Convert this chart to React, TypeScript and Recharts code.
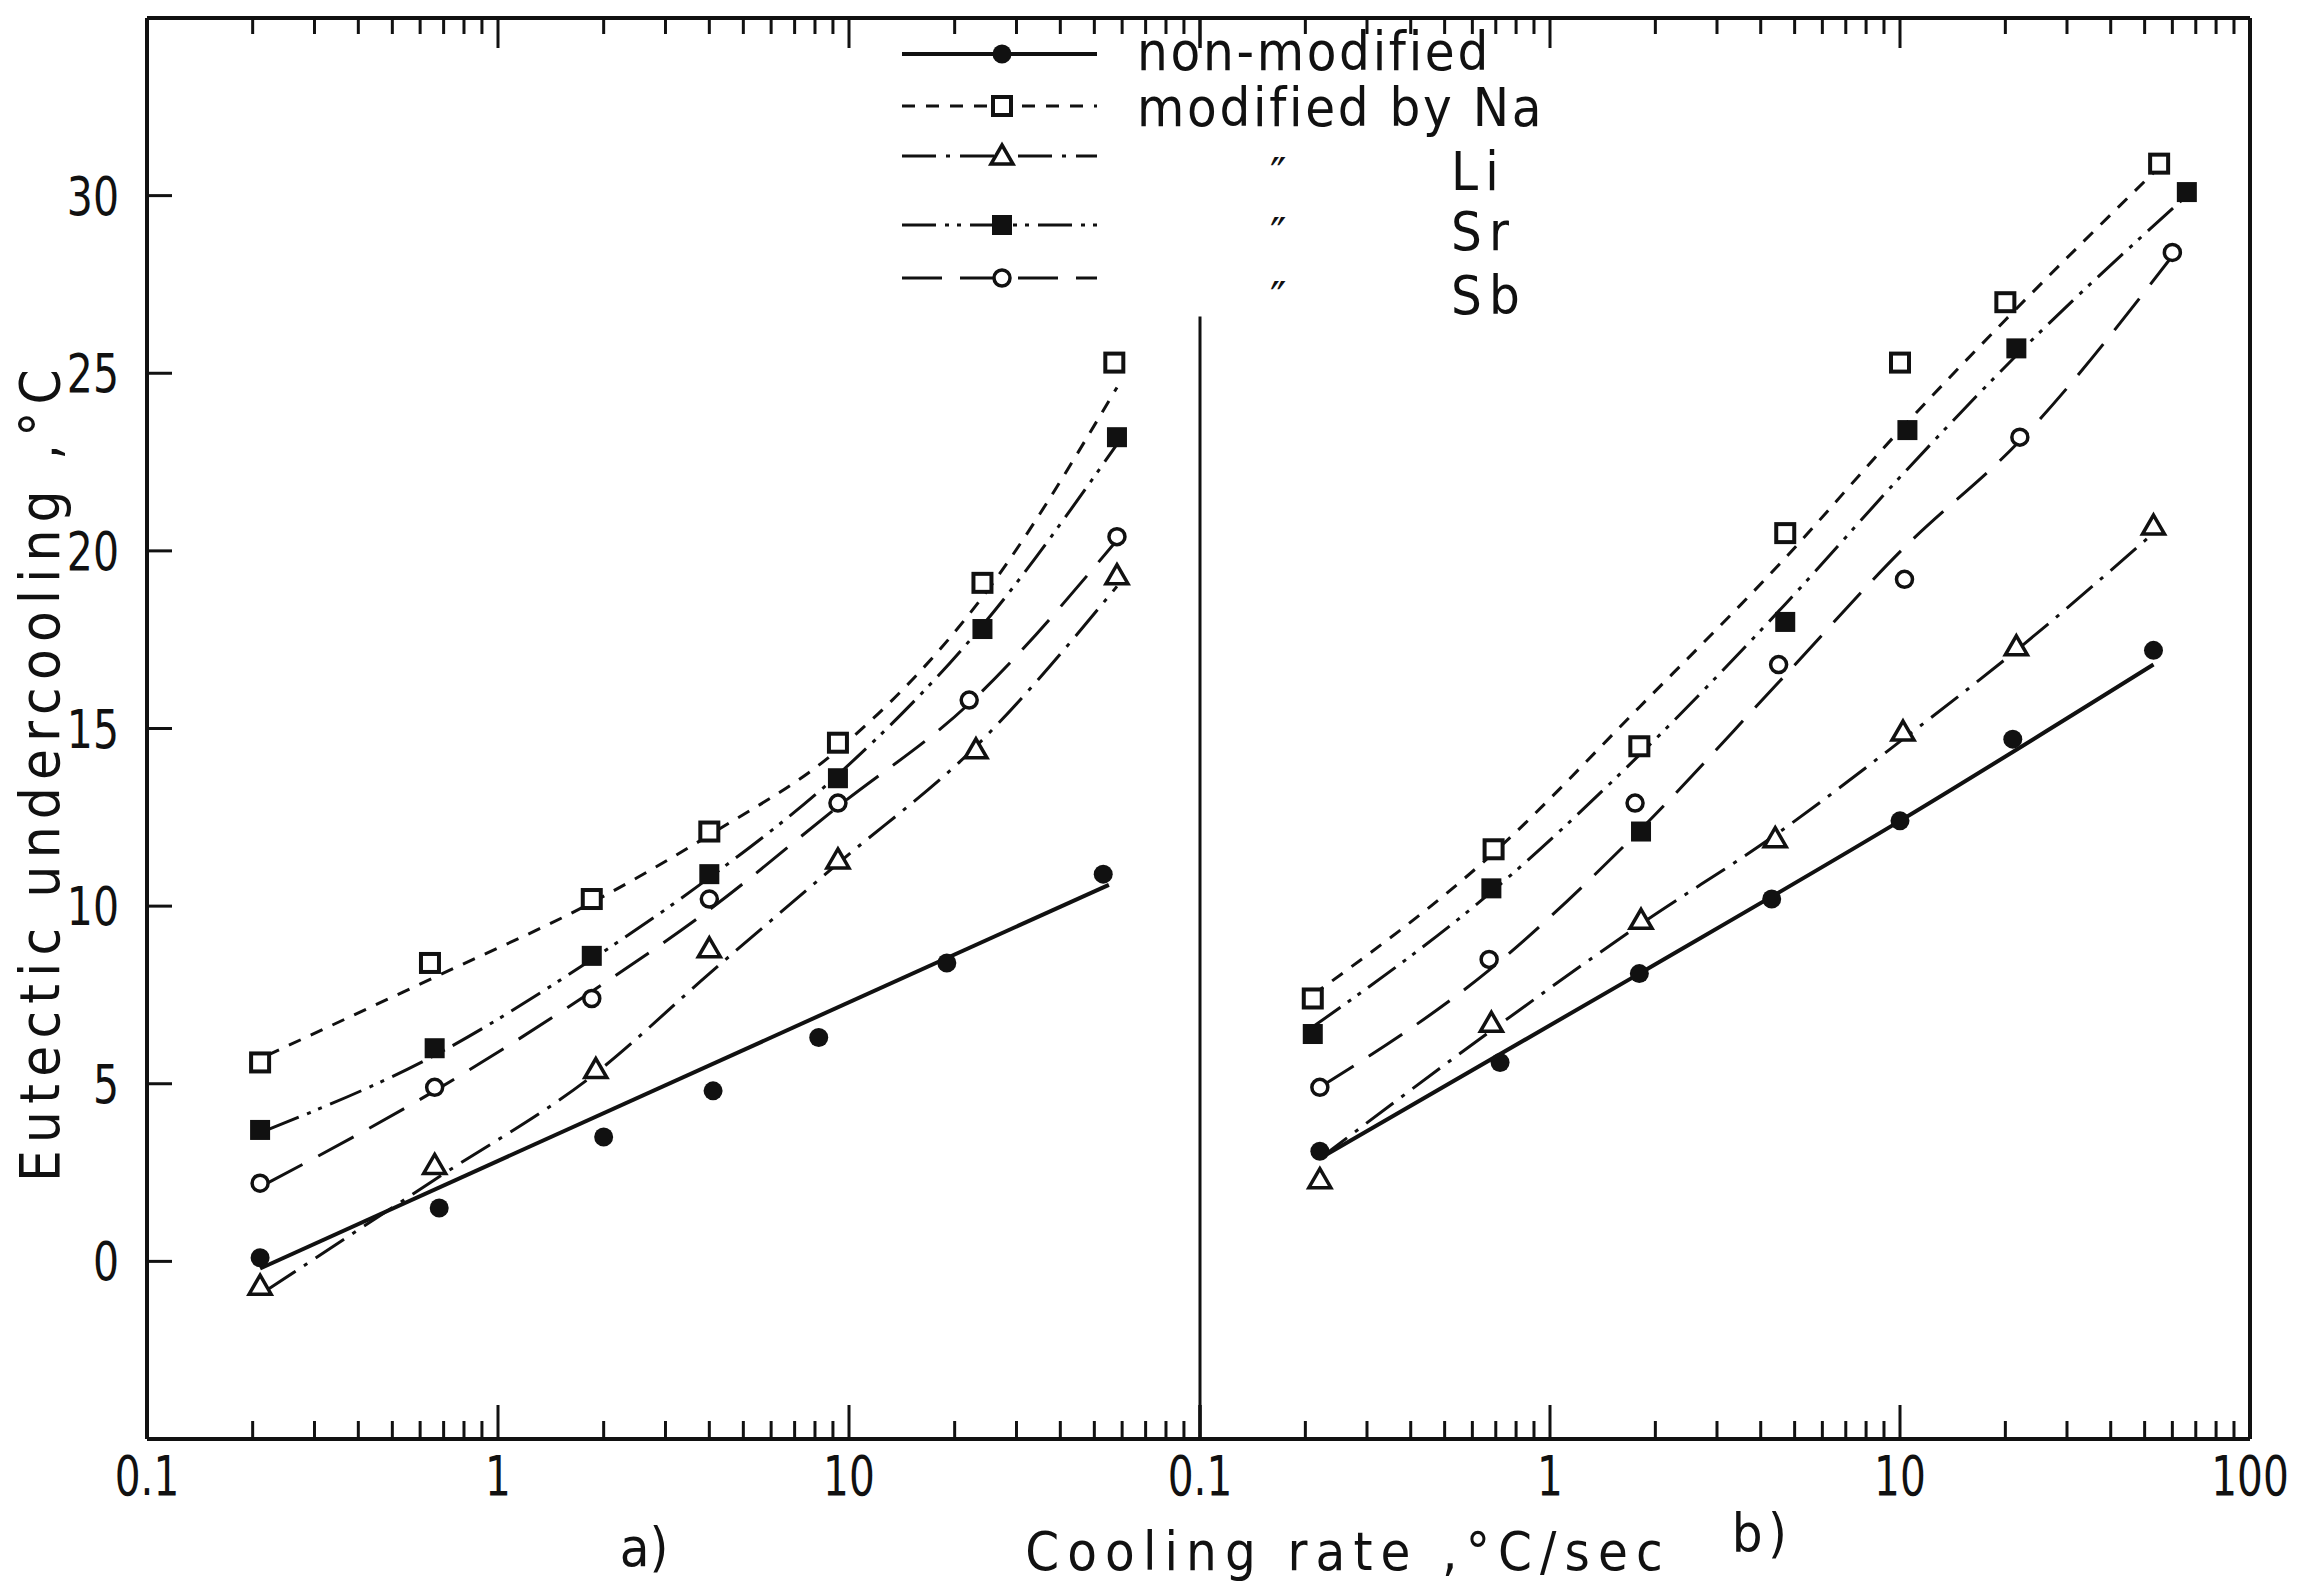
import React from "react";
import { LineChart, Line, XAxis, YAxis, ReferenceLine } from "recharts";

type P = [number, number];

// ---- panel a) measured points [cooling rate, undercooling]
const A_NM: P[] = [[0.21, 0.1], [0.68, 1.5], [2.0, 3.5], [4.1, 4.8], [8.2, 6.3], [19, 8.4], [53, 10.9]];
const A_NA: P[] = [[0.21, 5.6], [0.64, 8.4], [1.85, 10.2], [4.0, 12.1], [9.3, 14.6], [24, 19.1], [57, 25.3]];
const A_LI: P[] = [[0.21, -0.7], [0.66, 2.7], [1.9, 5.4], [4.0, 8.8], [9.3, 11.3], [23, 14.4], [58, 19.3]];
const A_SR: P[] = [[0.21, 3.7], [0.66, 6.0], [1.85, 8.6], [4.0, 10.9], [9.3, 13.6], [24, 17.8], [58, 23.2]];
const A_SB: P[] = [[0.21, 2.2], [0.66, 4.9], [1.85, 7.4], [4.0, 10.2], [9.3, 12.9], [22, 15.8], [58, 20.4]];

// panel a) fitted curves
const A_NM_FIT: P[] = [[0.21, -0.2], [55, 10.6]];
const A_NA_FIT: P[] = [[0.22, 5.8], [0.66, 8.0], [1.85, 10.1], [4.0, 12.0], [9.3, 14.4], [24, 18.7], [58, 24.6]];
const A_LI_FIT: P[] = [[0.22, -0.8], [0.66, 2.3], [1.9, 5.3], [4.0, 8.1], [9.3, 11.2], [23, 14.5], [58, 19.0]];
const A_SR_FIT: P[] = [[0.22, 3.7], [0.66, 5.8], [1.85, 8.5], [4.0, 10.8], [9.3, 13.7], [24, 17.9], [58, 23.0]];
const A_SB_FIT: P[] = [[0.22, 2.2], [0.66, 4.8], [1.85, 7.6], [4.0, 9.9], [9.3, 12.8], [22, 15.7], [58, 20.3]];

// ---- panel b) measured points
const B_NM: P[] = [[0.22, 3.1], [0.72, 5.6], [1.8, 8.1], [4.3, 10.2], [10.0, 12.4], [21, 14.7], [53, 17.2]];
const B_NA: P[] = [[0.21, 7.4], [0.69, 11.6], [1.8, 14.5], [4.7, 20.5], [10.0, 25.3], [20, 27.0], [55, 30.9]];
const B_LI: P[] = [[0.22, 2.3], [0.68, 6.7], [1.82, 9.6], [4.4, 11.9], [10.2, 14.9], [21.5, 17.3], [53, 20.7]];
const B_SR: P[] = [[0.21, 6.4], [0.68, 10.5], [1.82, 12.1], [4.7, 18.0], [10.5, 23.4], [21.5, 25.7], [66, 30.1]];
const B_SB: P[] = [[0.22, 4.9], [0.67, 8.5], [1.75, 12.9], [4.5, 16.8], [10.3, 19.2], [22, 23.2], [60, 28.4]];

// panel b) fitted curves
const B_NM_FIT: P[] = [[0.22, 2.9], [1.8, 8.1], [10.0, 12.4], [53, 16.8]];
const B_NA_FIT: P[] = [[0.21, 7.5], [0.69, 11.5], [1.8, 15.6], [4.7, 19.8], [10.0, 23.4], [20, 26.5], [55, 30.8]];
const B_LI_FIT: P[] = [[0.22, 2.9], [0.68, 6.5], [1.82, 9.5], [4.4, 12.0], [10.2, 14.7], [21.5, 17.2], [53, 20.5]];
const B_SR_FIT: P[] = [[0.21, 6.6], [0.68, 10.4], [1.82, 14.3], [4.7, 18.5], [10.5, 22.3], [21.5, 25.5], [66, 30.0]];
const B_SB_FIT: P[] = [[0.22, 4.9], [0.67, 8.2], [1.75, 12.0], [4.5, 16.3], [10.3, 20.1], [22, 23.1], [60, 28.3]];

// ---- axes
const X_DOMAIN = [0.1, 100];
const Y_DOMAIN = [-5, 35];
const X_MAJOR = [0.1, 1, 10, 100];
const X_MINOR_STEPS = [2, 3, 4, 5, 6, 7, 8, 9];
const Y_TICKS = [0, 5, 10, 15, 20, 25, 30];
const A_X_LABELS = ["0.1", "1", "10"];
const B_X_LABELS = ["0.1", "1", "10", "100"];

const LEGEND_LABELS = ["non-modified", "modified by Na", "Li", "Sr", "Sb"];

const X_TICKS = [
  ...X_MAJOR,
  ...[0.1, 1, 10].flatMap((d) => X_MINOR_STEPS.map((m) => +(d * m).toPrecision(3))),
];

// ---- layout (page px)
const W = 2310;
const H = 1587;
const PLOT_L = 147;
const MID = 1200;
const PLOT_R = 2250;
const PLOT_T = 18;
const PLOT_B = 1439;

const FONT = "'DejaVu Sans', sans-serif";
const INK = "#111";

// narrow lettering: DejaVu squeezed horizontally
function CText({
  x,
  y,
  sx = 1,
  rot = 0,
  children,
  ...rest
}: { x: number; y: number; sx?: number; rot?: number; children: React.ReactNode } & Record<string, any>) {
  return (
    <text transform={`translate(${x} ${y}) rotate(${rot}) scale(${sx} 1)`} fontFamily={FONT} fill={INK} {...rest}>
      {children}
    </text>
  );
}

type Kind = "dot" | "openSquare" | "openTriangle" | "square" | "openCircle";
const SERIES: { key: string; kind: Kind; dash?: string; width: number }[] = [
  { key: "nm", kind: "dot", width: 4 },
  { key: "na", kind: "openSquare", dash: "13 11", width: 3 },
  { key: "li", kind: "openTriangle", dash: "34 10 4 10", width: 3 },
  { key: "sr", kind: "square", dash: "34 9 4 8 4 9", width: 3 },
  { key: "sb", kind: "openCircle", dash: "40 18", width: 3 },
];

const toRows = (pts: P[]) => pts.map(([x, y]) => ({ x, y }));

function Marker({ cx, cy, kind }: { cx: number; cy: number; kind: Kind }) {
  if (cx == null || cy == null || isNaN(cx) || isNaN(cy)) return null;
  switch (kind) {
    case "dot":
      return <circle cx={cx} cy={cy} r={9.5} fill={INK} />;
    case "openCircle":
      return <circle cx={cx} cy={cy} r={8} fill="#fff" stroke={INK} strokeWidth={3.5} />;
    case "openSquare":
      return <rect x={cx - 9} y={cy - 9} width={18} height={18} fill="#fff" stroke={INK} strokeWidth={4} />;
    case "square":
      return <rect x={cx - 10} y={cy - 10} width={20} height={20} fill={INK} />;
    case "openTriangle":
      return (
        <path
          d={`M${cx},${cy - 11} L${cx + 11},${cy + 8} L${cx - 11},${cy + 8} Z`}
          fill="#fff"
          stroke={INK}
          strokeWidth={3.5}
        />
      );
  }
  return null;
}

const fmtX = (v: number) => (v >= 1 ? String(Math.round(v)) : String(v));

// inward tick marks drawn by the tick renderers
const bottomTick = (labels: string[]) => (props: any) => {
  const { x, y, payload } = props;
  const v = payload.value as number;
  const major = X_MAJOR.includes(v);
  const lab = fmtX(v);
  return (
    <g>
      <line x1={x} x2={x} y1={y} y2={y - (major ? 34 : 18)} stroke={INK} strokeWidth={3} />
      {major && labels.includes(lab) && (
        <CText x={x} y={y + 56} sx={0.74} textAnchor="middle" fontSize={55}>
          {lab}
        </CText>
      )}
    </g>
  );
};

const topTick = (props: any) => {
  const { x, y, payload } = props;
  const major = X_MAJOR.includes(payload.value);
  return <line x1={x} x2={x} y1={y} y2={y + (major ? 30 : 16)} stroke={INK} strokeWidth={3} />;
};

const leftTick = (props: any) => {
  const { x, y, payload } = props;
  return (
    <g>
      <line x1={x} x2={x + 25} y1={y} y2={y} stroke={INK} strokeWidth={3} />
      <CText x={x - 28} y={y + 19} sx={0.76} textAnchor="end" fontSize={54}>
        {payload.value}
      </CText>
    </g>
  );
};

const rightTick = (props: any) => {
  const { x, y } = props;
  return <line x1={x} x2={x - 22} y1={y} y2={y} stroke={INK} strokeWidth={3} />;
};

function seriesLines(points: P[][], fits: P[][]) {
  const out: React.ReactNode[] = [];
  SERIES.forEach((s, i) => {
    out.push(
      <Line
        key={`fit-${s.key}`}
        data={toRows(fits[i])}
        dataKey="y"
        type="monotone"
        stroke={INK}
        strokeWidth={s.width}
        strokeDasharray={s.dash}
        dot={false}
        activeDot={false}
        isAnimationActive={false}
      />
    );
  });
  SERIES.forEach((s, i) => {
    out.push(
      <Line
        key={`pts-${s.key}`}
        data={toRows(points[i])}
        dataKey="y"
        stroke="none"
        dot={(p: any) => <Marker key={`${s.key}-${p.index}`} cx={p.cx} cy={p.cy} kind={s.kind} />}
        activeDot={false}
        isAnimationActive={false}
      />
    );
  });
  return out;
}

const AXIS_LINE = { stroke: INK, strokeWidth: 4 };

function PanelA() {
  return (
    <LineChart width={W} height={H} margin={{ top: PLOT_T - 1, right: W - MID, bottom: 0, left: 0 }}>
      <XAxis
        xAxisId={0}
        dataKey="x"
        type="number"
        scale="log"
        domain={X_DOMAIN}
        ticks={X_TICKS}
        interval={0}
        allowDataOverflow
        height={H - PLOT_B}
        tickSize={0}
        tickMargin={0}
        tickLine={false}
        axisLine={AXIS_LINE}
        tick={bottomTick(A_X_LABELS)}
      />
      <XAxis
        xAxisId="top"
        orientation="top"
        dataKey="x"
        type="number"
        scale="log"
        domain={X_DOMAIN}
        ticks={X_TICKS}
        interval={0}
        allowDataOverflow
        height={1}
        tickSize={0}
        tickMargin={0}
        tickLine={false}
        axisLine={AXIS_LINE}
        tick={topTick}
      />
      <YAxis
        type="number"
        domain={Y_DOMAIN}
        ticks={Y_TICKS}
        interval={0}
        width={PLOT_L}
        tickSize={0}
        tickMargin={0}
        tickLine={false}
        axisLine={AXIS_LINE}
        tick={leftTick}
      />
      <ReferenceLine
        segment={[
          { x: 100, y: -5 },
          { x: 100, y: 26.6 },
        ]}
        stroke={INK}
        strokeWidth={3}
      />
      {seriesLines([A_NM, A_NA, A_LI, A_SR, A_SB], [A_NM_FIT, A_NA_FIT, A_LI_FIT, A_SR_FIT, A_SB_FIT])}
    </LineChart>
  );
}

function PanelB() {
  return (
    <LineChart width={W} height={H} margin={{ top: PLOT_T - 1, right: W - PLOT_R - 1, bottom: 0, left: MID }}>
      <XAxis
        xAxisId={0}
        dataKey="x"
        type="number"
        scale="log"
        domain={X_DOMAIN}
        ticks={X_TICKS}
        interval={0}
        allowDataOverflow
        height={H - PLOT_B}
        tickSize={0}
        tickMargin={0}
        tickLine={false}
        axisLine={AXIS_LINE}
        tick={bottomTick(B_X_LABELS)}
      />
      <XAxis
        xAxisId="top"
        orientation="top"
        dataKey="x"
        type="number"
        scale="log"
        domain={X_DOMAIN}
        ticks={X_TICKS}
        interval={0}
        allowDataOverflow
        height={1}
        tickSize={0}
        tickMargin={0}
        tickLine={false}
        axisLine={AXIS_LINE}
        tick={topTick}
      />
      <YAxis yAxisId={0} type="number" domain={Y_DOMAIN} hide />
      <YAxis
        yAxisId="r"
        orientation="right"
        type="number"
        domain={Y_DOMAIN}
        ticks={Y_TICKS}
        interval={0}
        width={1}
        tickSize={0}
        tickMargin={0}
        tickLine={false}
        axisLine={AXIS_LINE}
        tick={rightTick}
      />
      {seriesLines([B_NM, B_NA, B_LI, B_SR, B_SB], [B_NM_FIT, B_NA_FIT, B_LI_FIT, B_SR_FIT, B_SB_FIT])}
    </LineChart>
  );
}

// legend rows: [symbol y, text baseline y]
const LEGEND_Y: [number, number][] = [
  [54, 70],
  [106, 126],
  [156, 190],
  [225, 250],
  [278, 314],
];

function Overlay() {
  return (
    <svg width={W} height={H} style={{ position: "absolute", left: 0, top: 0, pointerEvents: "none" }}>
      {SERIES.map((s, i) => {
        const [ly, ty] = LEGEND_Y[i];
        return (
          <g key={s.key}>
            <line x1={902} x2={1097} y1={ly} y2={ly} stroke={INK} strokeWidth={s.width} strokeDasharray={s.dash} />
            <Marker cx={1002} cy={ly} kind={s.kind} />
            {i < 2 ? (
              <CText x={1137} y={ty} sx={0.9} fontSize={54} letterSpacing={3}>
                {LEGEND_LABELS[i]}
              </CText>
            ) : (
              <>
                <CText x={1270} y={ty} fontSize={44}>
                  ″
                </CText>
                <CText x={1451} y={ty} sx={0.9} fontSize={54} letterSpacing={8}>
                  {LEGEND_LABELS[i]}
                </CText>
              </>
            )}
          </g>
        );
      })}
      <CText x={40} y={772} rot={-90} sx={0.9} textAnchor="middle" dominantBaseline="central" fontSize={56} letterSpacing={8}>
        Eutectic   undercooling ,°C
      </CText>
      <CText x={1348} y={1570} sx={0.9} textAnchor="middle" fontSize={54} letterSpacing={9}>
        Cooling rate ,°C/sec
      </CText>
      <CText x={644} y={1566} sx={0.9} textAnchor="middle" fontSize={54}>
        a)
      </CText>
      <CText x={1762} y={1552} sx={0.9} textAnchor="middle" fontSize={54} letterSpacing={6}>
        b)
      </CText>
    </svg>
  );
}

export default function App() {
  return (
    <div style={{ position: "fixed", left: 0, top: 0, width: W, height: H, background: "#fff" }}>
      <div style={{ position: "absolute", left: 0, top: 0 }}>
        <PanelA />
      </div>
      <div style={{ position: "absolute", left: 0, top: 0 }}>
        <PanelB />
      </div>
      <Overlay />
    </div>
  );
}
